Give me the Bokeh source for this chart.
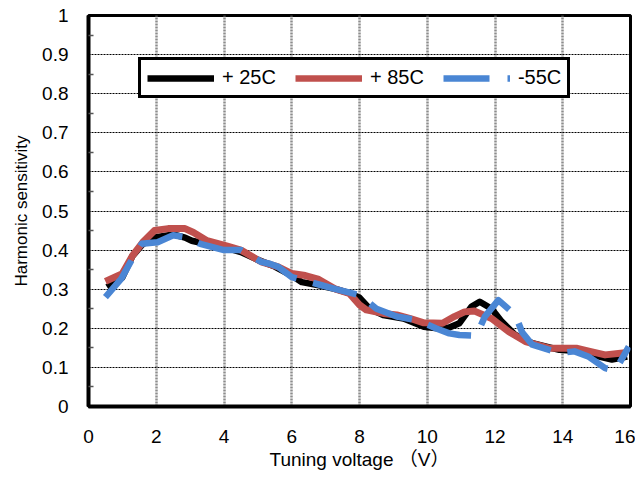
from bokeh.plotting import figure
from bokeh.models import (FixedTicker, CustomJSTickFormatter, Legend, LegendItem, Range1d)
from bokeh.embed import file_html
from bokeh.resources import INLINE

# ---- data ----
x_25 = [0.55, 1.0, 1.3, 1.6, 2.0, 2.5, 2.85, 3.05, 3.25, 3.6, 4.1, 4.5, 5.0, 5.5, 6.0, 6.3,
        6.8, 7.3, 7.7, 8.0, 8.3, 8.7, 9.3, 9.9, 10.3, 10.65, 10.95, 11.3, 11.55, 11.9, 12.2,
        12.6, 13.1, 13.9, 14.55, 15.05, 15.45, 15.9]
y_25 = [0.305, 0.33, 0.385, 0.415, 0.433, 0.44, 0.432, 0.424, 0.42, 0.418, 0.405, 0.395,
        0.375, 0.358, 0.335, 0.318, 0.31, 0.30, 0.29, 0.278, 0.25, 0.234, 0.225, 0.204, 0.20,
        0.202, 0.213, 0.255, 0.268, 0.25, 0.217, 0.183, 0.162, 0.145, 0.141, 0.128, 0.12, 0.128]

x_85 = [0.5, 1.0, 1.3, 1.6, 1.95, 2.35, 2.85, 3.1, 3.5, 4.1, 4.5, 4.9, 5.1, 5.6, 6.0, 6.4,
        6.8, 7.3, 7.7, 8.0, 8.2, 8.7, 9.1, 9.5, 9.9, 10.45, 10.8, 11.1, 11.4, 11.9, 12.4,
        12.9, 13.6, 14.4, 14.8, 15.25, 15.9]
y_85 = [0.32, 0.34, 0.386, 0.42, 0.45, 0.455, 0.455, 0.445, 0.424, 0.41, 0.40, 0.38, 0.37,
        0.357, 0.34, 0.335, 0.325, 0.30, 0.289, 0.26, 0.247, 0.238, 0.234, 0.225, 0.214,
        0.213, 0.23, 0.242, 0.244, 0.225, 0.192, 0.166, 0.149, 0.149, 0.141, 0.132, 0.138]

x_m55 = [0.5, 0.97, 1.27, 1.57, 2.04, 2.5, 2.85, 3.3, 4.0, 4.5, 5.1, 5.35, 5.6, 6.0, 6.8,
         7.3, 8.0, 8.5, 9.1, 9.7, 10.25, 10.65, 10.95, 11.45, 11.7, 12.1, 12.6, 12.8, 13.1,
         13.9, 14.35, 14.75, 15.25, 15.55, 15.95]
y_m55 = [0.28, 0.327, 0.374, 0.416, 0.42, 0.438, 0.433, 0.416, 0.40, 0.40, 0.37, 0.365,
         0.357, 0.331, 0.312, 0.30, 0.285, 0.25, 0.23, 0.221, 0.20, 0.187, 0.183, 0.181,
         0.23, 0.272, 0.234, 0.19, 0.158, 0.137, 0.141, 0.128, 0.098, 0.092, 0.153]

series_labels = ["+ 25C", "+ 85C", "-55C"]
x_ticks = [0, 2, 4, 6, 8, 10, 12, 14, 16]
y_ticks = [0, 0.1, 0.2, 0.3, 0.4, 0.5, 0.6, 0.7, 0.8, 0.9, 1.0]
x_title = "Tuning voltage （V）"
y_title = "Harmonic sensitivity"

FONT = "Liberation Sans, Noto Sans CJK JP"
C_BLACK = "#000000"
C_RED = "#c0504d"
C_BLUE = "#4a86d4"
NAN = float("nan")

p = figure(width=635, height=479, x_range=Range1d(0, 16), y_range=Range1d(0, 1),
           output_backend="svg", toolbar_location=None,
           min_border_left=88, min_border_right=5, min_border_top=15, min_border_bottom=73)
p.background_fill_color = "white"
p.border_fill_color = "white"
p.outline_line_color = "black"
p.outline_line_width = 3
p.outline_line_alpha = 1

# grids
p.xgrid.ticker = FixedTicker(ticks=x_ticks[1:-1])
p.xgrid.grid_line_color = "#8c8c8c"
p.xgrid.grid_line_width = 2.5
p.xgrid.grid_line_dash = "2 1"
p.ygrid.ticker = FixedTicker(ticks=y_ticks[1:-1])
p.ygrid.grid_line_color = "#000000"
p.ygrid.grid_line_width = 1
p.ygrid.grid_line_dash = "2 1"

# axes
p.xaxis.ticker = FixedTicker(ticks=x_ticks)
p.yaxis.ticker = FixedTicker(ticks=y_ticks, minor_ticks=[t + 0.05 for t in y_ticks[:-1]])
p.yaxis.formatter = CustomJSTickFormatter(code="return String(Math.round(tick*10)/10);")
for ax in (p.xaxis[0], p.yaxis[0]):
    ax.axis_line_width = 4
    ax.axis_line_color = "black"
    ax.major_tick_in = 0
    ax.major_tick_out = 0
    ax.major_label_text_font = FONT
    ax.major_label_text_font_size = "19px"
    ax.major_label_text_color = "black"
    ax.axis_label_text_font = FONT
    ax.axis_label_text_font_style = "normal"
    ax.axis_label_text_color = "black"
p.xaxis.minor_tick_line_color = None
p.yaxis.minor_tick_in = 5
p.yaxis.minor_tick_out = 0
p.yaxis.minor_tick_line_width = 1.5
p.yaxis.minor_tick_line_color = "#555555"
p.xaxis.major_label_standoff = 23
p.yaxis.major_label_standoff = 20
p.xaxis.axis_label = x_title
p.yaxis.axis_label = y_title
p.xaxis.axis_label_text_font_size = "19px"
p.yaxis.axis_label_text_font_size = "17px"
p.xaxis.axis_label_standoff = 3
p.yaxis.axis_label_standoff = 8

# curves
p.line(x_25, y_25, line_color=C_BLACK, line_width=6.5, line_join="round")
p.line(x_85, y_85, line_color=C_RED, line_width=7, line_join="round")
p.line(x_m55, y_m55, line_color=C_BLUE, line_width=6.5, line_join="round", line_dash="45 17")

# legend (glyph-only renderers, nothing drawn in the plot)
lg_black = p.line([NAN], [NAN], line_color=C_BLACK, line_width=6.5)
lg_red = p.line([NAN], [NAN], line_color=C_RED, line_width=6.5)
lg_blue = p.line([NAN], [NAN], line_color=C_BLUE, line_width=6.5, line_dash="46 18 4 18")
legend = Legend(items=[LegendItem(label=series_labels[0], renderers=[lg_black]),
                       LegendItem(label=series_labels[1], renderers=[lg_red]),
                       LegendItem(label=series_labels[2], renderers=[lg_blue])],
                orientation="horizontal", location=(50, 308),
                glyph_width=67, glyph_height=20, label_height=20, label_standoff=8,
                spacing=19, padding=6, margin=0,
                label_text_font=FONT, label_text_font_size="20px", label_text_color="black",
                border_line_color="black", border_line_width=3, border_line_alpha=1,
                background_fill_color="white", background_fill_alpha=1)
p.add_layout(legend)

open("out.html", "w").write(file_html(p, INLINE))
